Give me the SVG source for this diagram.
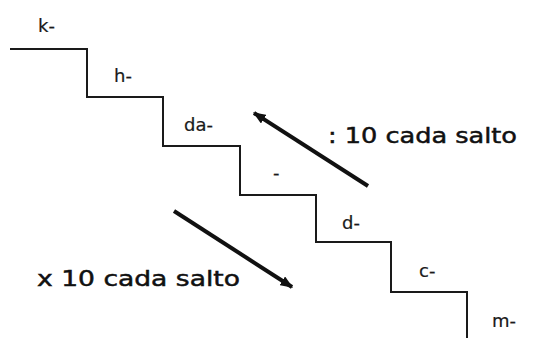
<svg xmlns="http://www.w3.org/2000/svg" width="543" height="338" viewBox="0 0 543 338">
<defs>
<style>
.stair{fill:none;stroke:#1a1a1a;stroke-width:2}
.lbl{font-family:"DejaVu Sans","Liberation Sans",sans-serif;font-size:18px;fill:#1a1a1a;stroke:#1a1a1a;stroke-width:0.2}
.big{font-family:"DejaVu Sans","Noto Sans",sans-serif;font-size:22px;fill:#111;stroke:#111;stroke-width:0.5}
.arr{stroke:#111;stroke-width:4;fill:none;marker-end:url(#ah)}
</style>
<marker id="ah" viewBox="0 0 10 8" refX="9" refY="4" markerWidth="3.2" markerHeight="2.6" orient="auto" markerUnits="strokeWidth">
<path d="M0,0 L10,4 L0,8 Z" fill="#111"/>
</marker>
</defs>
<rect width="543" height="338" fill="#fff"/>
<g id="stairs">
<path class="stair" d="M10,49 H87 V97 H163 V146 H240 V195 H316 V242 H391 V292 H467 V338"/>
</g>
<g id="label-k"><text class="lbl" x="38" y="32">k-</text></g>
<g id="label-h"><text class="lbl" x="114" y="82">h-</text></g>
<g id="label-da"><text class="lbl" x="184" y="131">da-</text></g>
<g id="label-dash"><text class="lbl" x="273" y="179">-</text></g>
<g id="label-d"><text class="lbl" x="342" y="229">d-</text></g>
<g id="label-c"><text class="lbl" x="419" y="277">c-</text></g>
<g id="label-m"><text class="lbl" x="492" y="327">m-</text></g>
<g id="text-div"><text class="big" x="328" y="143" textLength="189" lengthAdjust="spacingAndGlyphs">: 10 cada salto</text></g>
<g id="text-mul"><text class="big" x="37" y="286" textLength="203" lengthAdjust="spacingAndGlyphs">x 10 cada salto</text></g>
<g id="connectors">
<line class="arr" x1="368" y1="186" x2="254" y2="113"/>
<line class="arr" x1="174" y1="211" x2="292" y2="287"/>
</g>
</svg>
